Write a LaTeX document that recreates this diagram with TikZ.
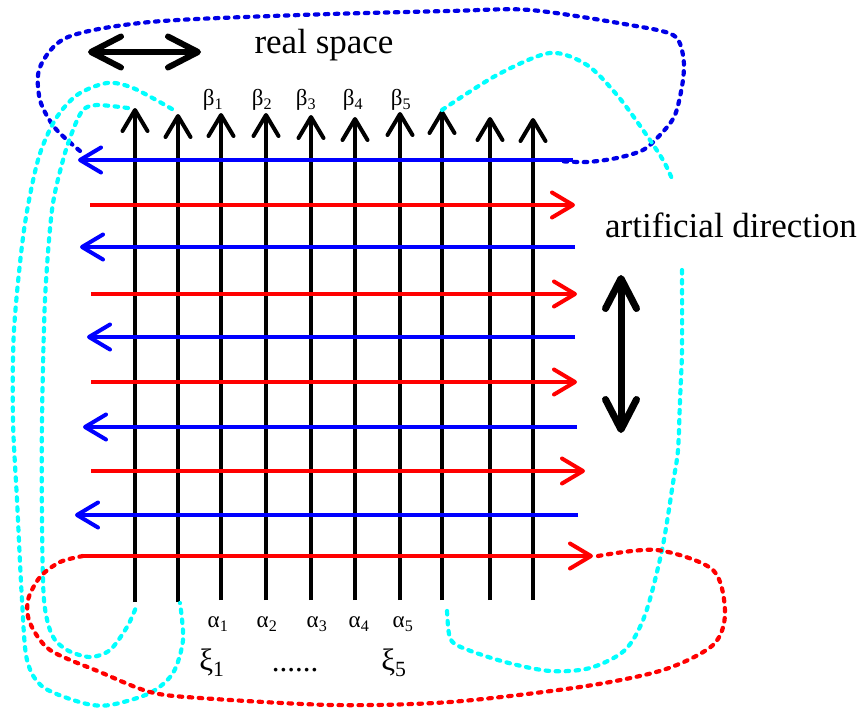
\documentclass[tikz,border=0pt]{standalone}
\usepackage{fontspec}
\setmainfont{Liberation Serif}
\usetikzlibrary{arrows.meta}

\definecolor{loopcyan}{RGB}{0,255,255}
\definecolor{loopblue}{RGB}{0,0,230}

\tikzset{
  barb/.tip={Straight Barb[length=21pt,width=25pt,line cap=round,line join=round]},
  bigbarb/.tip={Straight Barb[length=30pt,width=31pt,line cap=round,line join=round]},
  gridline/.style={line width=4pt,-barb},
  loopline/.style={line width=4.2pt,dash pattern=on 3.5pt off 6.5pt,line cap=round},
  greeklabel/.style={inner sep=0pt,font=\fontsize{23}{25}\selectfont},
}

\begin{document}
\begin{tikzpicture}[x=1pt,y=-1pt]
  \useasboundingbox (0,0) rectangle (865,710);

  % vertical arrows of real space
  \foreach \i/\x/\t/\b in {1/135/108/602, 2/178/114/602, 3/221/113/600, 4/266/113/600,
      5/311/115/600, 6/355/117/600, 7/400/112/600, 8/442/110/600, 9/490/117/600, 10/533/118/600}
  {
    \coordinate (v\i b) at (\x,\b);
    \coordinate (v\i t) at (\x,\t);
    \draw[gridline,black] (v\i b) -- (v\i t);
  }

  % red lines going right
  \foreach \i/\y/\l/\r in {2/205/90/575, 4/294/91/577, 6/382/91/577, 8/471/91/585, 10/556/82/593}
  {
    \coordinate (h\i l) at (\l,\y);
    \coordinate (h\i r) at (\r,\y);
    \draw[gridline,red] (h\i l) -- (h\i r);
  }

  % blue lines going left
  \foreach \i/\y/\l/\r in {1/160/78/573, 3/247/80/575, 5/337/87/575, 7/427/83/577, 9/515/75/578}
  {
    \coordinate (h\i l) at (\l,\y);
    \coordinate (h\i r) at (\r,\y);
    \draw[gridline,blue] (h\i r) -- (h\i l);
  }

  % labels
  \foreach \i/\x in {1/213, 2/262, 3/306, 4/353, 5/401}
    \node[greeklabel] (beta\i) at (\x,100) {β\textsubscript{\i}};
  \foreach \i/\x in {1/218, 2/267, 3/317, 4/359, 5/403}
    \node[greeklabel] (alpha\i) at (\x,624) {α\textsubscript{\i}};
  \node[greeklabel,font=\fontsize{31}{33}\selectfont] (xi1) at (212,663) {ξ\textsubscript{1}};
  \node[greeklabel,font=\fontsize{31}{33}\selectfont,anchor=base] (dots) at (295,671) {......};
  \node[greeklabel,font=\fontsize{31}{33}\selectfont] (xi5) at (394,663) {ξ\textsubscript{5}};

  \node[inner sep=0pt,anchor=base,font=\fontsize{35}{40}\selectfont] (real) at (324,53) {real space};
  \node[inner sep=0pt,anchor=base,font=\fontsize{35}{40}\selectfont] (artif) at (731,237) {artificial direction};

  % direction arrows
  \coordinate (rs1) at (88,52);
  \coordinate (rs2) at (201,52);
  \draw[line width=6pt,bigbarb-bigbarb] (rs1) -- (rs2);
  \coordinate (ad1) at (621,275);
  \coordinate (ad2) at (621,433);
  \draw[line width=7pt,bigbarb-bigbarb] (ad1) -- (ad2);

  % boundary loops
  \draw[loopline,loopblue] plot[smooth] coordinates {(80,151) (55,128) (40,100) (40,67) (68,37)
      (150,22) (300,15) (450,11) (530,10) (630,25) (673,35) (683,55) (683,80) (675,115)
      (660,135) (643,150) (617,158) (587,162) (558,161)};
  \draw[loopline,loopcyan] plot[smooth] coordinates {(v8t) (497,75) (550,53) (587,65) (617,95)
      (643,130) (663,160) (673,181)};
  \draw[loopline,loopcyan] plot[smooth] coordinates {(682,270) (682,350) (680,400) (678,450)
      (673,483) (662,550) (645,615) (625,650) (590,668) (550,671) (505,662) (463,648)
      (450,638) (447,610)};
  \draw[loopline,loopcyan] plot[smooth] coordinates {(172,109) (133,88) (107,83) (77,95)
      (55,120) (38,160) (24,230) (14,330) (13,420) (17,500) (22,600) (27,660) (43,687)
      (83,703) (110,705) (150,693) (173,673) (183,640) (180,603)};
  \draw[loopline,loopcyan] plot[smooth] coordinates {(128,108) (97,105) (83,110) (73,130)
      (63,160) (52,210) (45,300) (42,420) (42,520) (44,600) (52,635) (67,650) (90,657)
      (110,650) (127,627) (137,605)};
  \draw[loopline,red] plot[smooth] coordinates {(598,556) (657,550) (713,570) (725,613)
      (713,645) (663,670) (580,687) (450,702) (333,705) (200,698) (150,692) (100,672)
      (50,650) (30,623) (28,600) (40,577) (60,562) (83,556)};
\end{tikzpicture}
\end{document}
